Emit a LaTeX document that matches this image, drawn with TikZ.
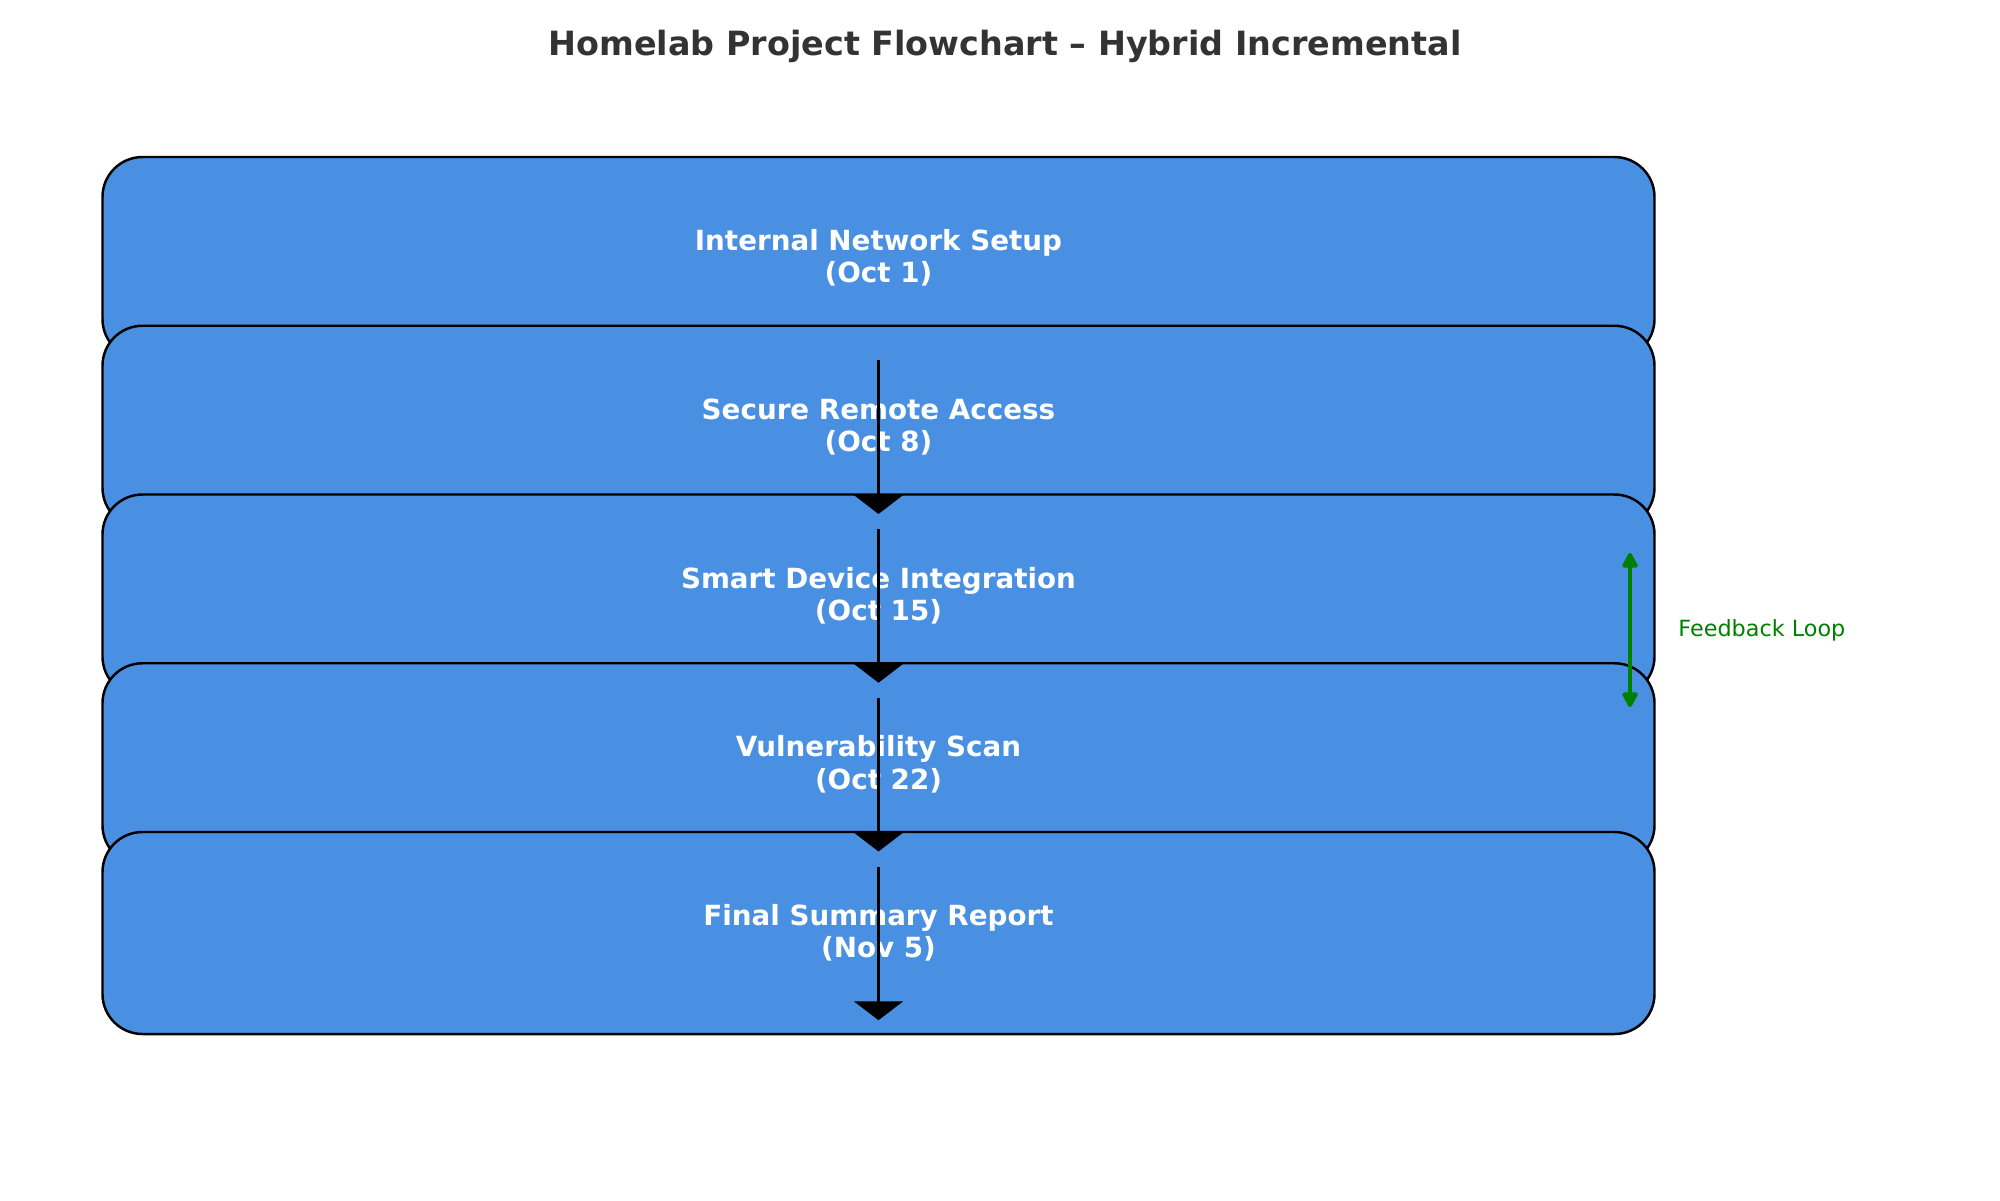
\documentclass[tikz,border=0pt]{standalone}
\usepackage{fontspec}
\setmainfont{DejaVu Sans}
\usetikzlibrary{arrows.meta}
\definecolor{phaseblue}{HTML}{4A90E2}
\definecolor{titlegray}{HTML}{333333}
\definecolor{loopgreen}{HTML}{008000}
\begin{document}
\begin{tikzpicture}[
    phase/.style={draw=black, line width=0.7pt, fill=phaseblue, rounded corners=0.4cm,
        minimum width=15.52cm, minimum height=2.02cm, text=white, align=center,
        font=\fontsize{7.9}{9.2}\selectfont\bfseries},
    flow/.style={line width=0.75pt, -{Triangle[width=0.49cm,length=0.19cm]}},
    loop/.style={loopgreen, line width=1.1pt, line cap=round,
        {Triangle[width=0.17cm,length=0.17cm,round]}-{Triangle[width=0.17cm,length=0.17cm,round]}}
]
        \useasboundingbox (0,0) rectangle (20,-12);

        % title
        \node[text=titlegray, font=\fontsize{9.5}{11}\selectfont\bfseries] (title) at (10.05,-0.46)
            {Homelab Project Flowchart – Hybrid Incremental};

        % phases, each one drawn over the previous
        \node[phase] (net) at (8.785,-2.58) {Internal Network Setup\\(Oct 1)};
        \node[phase] (remote) at (8.785,-4.2675) {Secure Remote Access\\(Oct 8)};
        \node[phase] (smart) at (8.785,-5.955) {Smart Device Integration\\(Oct 15)};
        \node[phase] (vuln) at (8.785,-7.6425) {Vulnerability Scan\\(Oct 22)};
        \node[phase] (final) at (8.785,-9.33) {Final Summary Report\\(Nov 5)};

        % flow between phases
        \draw[flow] (net.south) -- ([yshift=0.15cm]remote.south);
        \draw[flow] (remote.south) -- ([yshift=0.15cm]smart.south);
        \draw[flow] (smart.south) -- ([yshift=0.15cm]vuln.south);
        \draw[flow] (vuln.south) -- ([yshift=0.15cm]final.south);

        % feedback between integration and scan
        \coordinate (fbtop) at (16.3,-5.53);
        \coordinate (fbbot) at (16.3,-7.07);
        \draw[loop] (fbtop) -- (fbbot);
        \node[anchor=west, text=loopgreen, font=\fontsize{6.35}{8}\selectfont] (fblabel) at (16.66,-6.3)
            {Feedback Loop};
\end{tikzpicture}
\end{document}
